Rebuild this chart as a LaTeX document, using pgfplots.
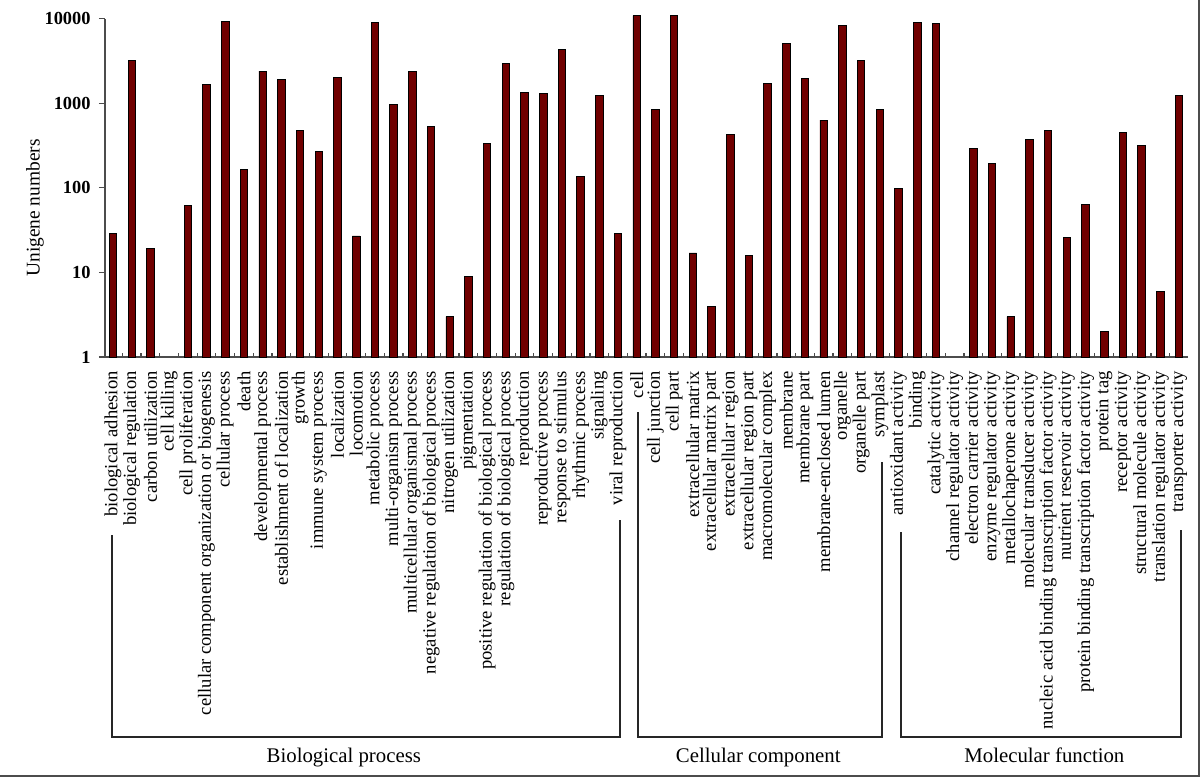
\documentclass[border=0pt]{standalone}
\usepackage{pgfplots}
\pgfplotsset{compat=1.18}
\usepackage{fontspec}
\setmainfont{Liberation Serif}
\definecolor{barred}{RGB}{112,0,0}
\begin{document}
\begin{tikzpicture}
\useasboundingbox (-52.5pt,-210pt) rectangle (547.5pt,178.5pt);
\draw[black!70, line width=0.9pt] (-52.5pt,-209.4pt) -- (546.9pt,-209.4pt) -- (546.9pt,178.5pt);
\begin{axis}[
  at={(0,0)}, anchor=south west,
  scale only axis, width=541.5pt, height=169.15pt,
  ymode=log, ymin=1, ymax=10000, xmin=-0.43, xmax=57.48,
  clip=false,
  axis x line*=bottom, axis y line*=left,
  axis line style={black!70, line width=0.8pt},
  ybar, bar width=0.4,
  xtick={0,...,57},
  xticklabels={biological adhesion,biological regulation,carbon utilization,cell killing,cell proliferation,cellular component organization or biogenesis,cellular process,death,developmental process,establishment of localization,growth,immune system process,localization,locomotion,metabolic process,multi-organism process,multicellular organismal process,negative regulation of biological process,nitrogen utilization,pigmentation,positive regulation of biological process,regulation of biological process,reproduction,reproductive process,response to stimulus,rhythmic process,signaling,viral reproduction,cell,cell junction,cell part,extracellular matrix,extracellular matrix part,extracellular region,extracellular region part,macromolecular complex,membrane,membrane part,membrane-enclosed lumen,organelle,organelle part,symplast,antioxidant activity,binding,catalytic activity,channel regulator activity,electron carrier activity,enzyme regulator activity,metallochaperone activity,molecular transducer activity,nucleic acid binding transcription factor activity,nutrient reservoir activity,protein binding transcription factor activity,protein tag,receptor activity,structural molecule activity,translation regulator activity,transporter activity},
  minor xtick={0.5,1.5,...,57.5},
  major x tick style={draw=none},
  minor x tick style={black!70, line width=0.6pt},
  xtick align=inside,
  minor tick length=2pt,
  major tick length=3pt,
  ytick={1,10,100,1000,10000},
  yticklabels={1,10,100,1000,10000},
  yminorticks=false,
  ytick align=outside,
  y tick style={black!70, line width=0.6pt},
  xticklabel style={rotate=90, anchor=east, inner sep=0pt, font=\fontsize{9.3}{10}\selectfont},
  xticklabel shift=7pt,
  yticklabel style={inner sep=0pt, font=\bfseries\fontsize{9.2}{10}\selectfont},
  yticklabel shift=4pt,
  ylabel={Unigene numbers},
  ylabel style={at={(axis description cs:-0.0646,0.4405)}, anchor=center, font=\fontsize{9.7}{11}\selectfont},
]
\addplot[fill=barred, draw=black, line width=0.4pt] coordinates {
(0,29) (1,3245) (2,19) (4,62) (5,1687) (6,9390) (7,166) (8,2405) (9,1933)
(10,482) (11,272) (12,2042) (13,27) (14,9060) (15,978) (16,2360) (17,537)
(18,3) (19,9) (20,338) (21,2990) (22,1357) (23,1310) (24,4380) (25,138)
(26,1250) (27,29) (28,10860) (29,854) (30,10860) (31,17) (32,4) (33,432)
(34,16) (35,1734) (36,5115) (37,1987) (38,633) (39,8356) (40,3220) (41,854)
(42,98) (43,9060) (44,8830) (46,295) (47,194) (48,3) (49,377) (50,482)
(51,26) (52,64) (53,2) (54,453) (55,320) (56,6) (57,1250)
};
\draw[line width=1pt, black!85] ([yshift=-89pt]axis cs:-0.05,1) |- ([yshift=-190pt]axis cs:27.1,1) -- ([yshift=-81.5pt]axis cs:27.1,1);
\draw[line width=1pt, black!85] ([yshift=-27.5pt]axis cs:28.08,1) |- ([yshift=-190pt]axis cs:41.12,1) -- ([yshift=-52.5pt]axis cs:41.12,1);
\draw[line width=1pt, black!85] ([yshift=-87.5pt]axis cs:42.15,1) |- ([yshift=-190pt]axis cs:57.1,1) -- ([yshift=-86.5pt]axis cs:57.1,1);
\node[anchor=base, font=\fontsize{10.4}{12}\selectfont] at ([yshift=-202.5pt]axis cs:12.34,1) {Biological process};
\node[anchor=base, font=\fontsize{10.4}{12}\selectfont] at ([yshift=-202.5pt]axis cs:34.5,1) {Cellular component};
\node[anchor=base, font=\fontsize{10.4}{12}\selectfont] at ([yshift=-202.5pt]axis cs:49.8,1) {Molecular function};
\end{axis}
\end{tikzpicture}
\end{document}
